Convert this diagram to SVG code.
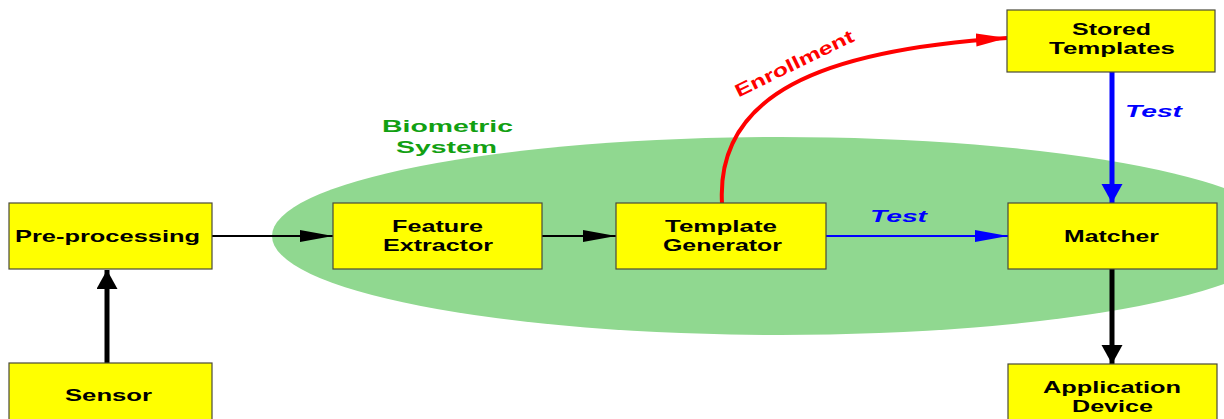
<svg xmlns="http://www.w3.org/2000/svg" width="1224" height="419" viewBox="0 0 1224 419">
<defs>
<style>
.box{fill:#ffff00;stroke:#4a4a3a;stroke-width:1.2}
.lbl{font-family:"Liberation Sans",Arial,sans-serif;font-weight:bold;font-size:16.5px;fill:#000}
.green{fill:#12a012}
.test{font-family:"Liberation Sans",Arial,sans-serif;font-weight:bold;font-style:italic;font-size:16px;fill:#0000ff}
.enr{font-family:"Liberation Sans",Arial,sans-serif;font-weight:bold;font-size:18px;fill:#ff0000}
</style>
<marker id="ah-thin-k" markerUnits="userSpaceOnUse" markerWidth="34" markerHeight="14" refX="33" refY="6" orient="auto"><path d="M0,0 L33,6 L0,12 Z" fill="#000"/></marker>
<marker id="ah-thin-b" markerUnits="userSpaceOnUse" markerWidth="34" markerHeight="14" refX="33" refY="6" orient="auto"><path d="M0,0 L33,6 L0,12 Z" fill="#0000ff"/></marker>
<marker id="ah-red" markerUnits="userSpaceOnUse" markerWidth="32" markerHeight="14" refX="31" refY="6.5" orient="auto"><path d="M0,0 L31,6.5 L0,13 Z" fill="#ff0000"/></marker>
<marker id="ah-thick-k" markerUnits="userSpaceOnUse" markerWidth="20" markerHeight="22" refX="19" refY="10.5" orient="auto"><path d="M0,0 L19,10.5 L0,21 Z" fill="#000"/></marker>
<marker id="ah-thick-b" markerUnits="userSpaceOnUse" markerWidth="20" markerHeight="22" refX="19" refY="10.5" orient="auto"><path d="M0,0 L19,10.5 L0,21 Z" fill="#0000ff"/></marker>
</defs>
<rect width="1224" height="419" fill="#fff"/>
<g id="biometric-system">
<ellipse cx="780" cy="236" rx="508" ry="99" fill="#90d890"/>
<text class="lbl green" x="382" y="132" textLength="131" lengthAdjust="spacingAndGlyphs">Biometric</text>
<text class="lbl green" x="396" y="153" textLength="101" lengthAdjust="spacingAndGlyphs">System</text>
</g>
<g id="connectors">
<line x1="212" y1="236" x2="333" y2="236" stroke="#000" stroke-width="2" marker-end="url(#ah-thin-k)"/>
<line x1="542" y1="236" x2="616" y2="236" stroke="#000" stroke-width="2" marker-end="url(#ah-thin-k)"/>
<line x1="826" y1="236" x2="1008" y2="236" stroke="#0000ff" stroke-width="2" marker-end="url(#ah-thin-b)"/>
<line x1="107" y1="363" x2="107" y2="270" stroke="#000" stroke-width="5" marker-end="url(#ah-thick-k)"/>
<line x1="1112" y1="269" x2="1112" y2="364" stroke="#000" stroke-width="5" marker-end="url(#ah-thick-k)"/>
<line x1="1112" y1="72" x2="1112" y2="203" stroke="#0000ff" stroke-width="5" marker-end="url(#ah-thick-b)"/>
<path d="M722,203 C716,95 820,50 1007,38" fill="none" stroke="#ff0000" stroke-width="4" marker-end="url(#ah-red)"/>
<text class="test" x="870" y="222" textLength="57" lengthAdjust="spacingAndGlyphs">Test</text>
<text class="test" x="1125" y="117" textLength="57" lengthAdjust="spacingAndGlyphs">Test</text>
<text class="enr" transform="translate(797,69) rotate(-26)" x="-65" y="0" textLength="130" lengthAdjust="spacingAndGlyphs">Enrollment</text>
</g>
<g id="pre-processing">
<rect class="box" x="9" y="203" width="203" height="66"/>
<text class="lbl" x="15" y="242" textLength="185" lengthAdjust="spacingAndGlyphs">Pre-processing</text>
</g>
<g id="sensor">
<rect class="box" x="9" y="363" width="203" height="70"/>
<text class="lbl" x="65" y="401" textLength="87" lengthAdjust="spacingAndGlyphs">Sensor</text>
</g>
<g id="feature-extractor">
<rect class="box" x="333" y="203" width="209" height="66"/>
<text class="lbl" x="392" y="232" textLength="91" lengthAdjust="spacingAndGlyphs">Feature</text>
<text class="lbl" x="383" y="251" textLength="110" lengthAdjust="spacingAndGlyphs">Extractor</text>
</g>
<g id="template-generator">
<rect class="box" x="616" y="203" width="210" height="66"/>
<text class="lbl" x="665" y="232" textLength="112" lengthAdjust="spacingAndGlyphs">Template</text>
<text class="lbl" x="663" y="251" textLength="119" lengthAdjust="spacingAndGlyphs">Generator</text>
</g>
<g id="matcher">
<rect class="box" x="1008" y="203" width="209" height="66"/>
<text class="lbl" x="1064" y="242" textLength="95" lengthAdjust="spacingAndGlyphs">Matcher</text>
</g>
<g id="stored-templates">
<rect class="box" x="1007" y="10" width="208" height="62"/>
<text class="lbl" x="1072" y="35" textLength="79" lengthAdjust="spacingAndGlyphs">Stored</text>
<text class="lbl" x="1049" y="54" textLength="126" lengthAdjust="spacingAndGlyphs">Templates</text>
</g>
<g id="application-device">
<rect class="box" x="1008" y="364" width="209" height="70"/>
<text class="lbl" x="1043" y="393" textLength="138" lengthAdjust="spacingAndGlyphs">Application</text>
<text class="lbl" x="1072" y="412" textLength="81" lengthAdjust="spacingAndGlyphs">Device</text>
</g>
</svg>
